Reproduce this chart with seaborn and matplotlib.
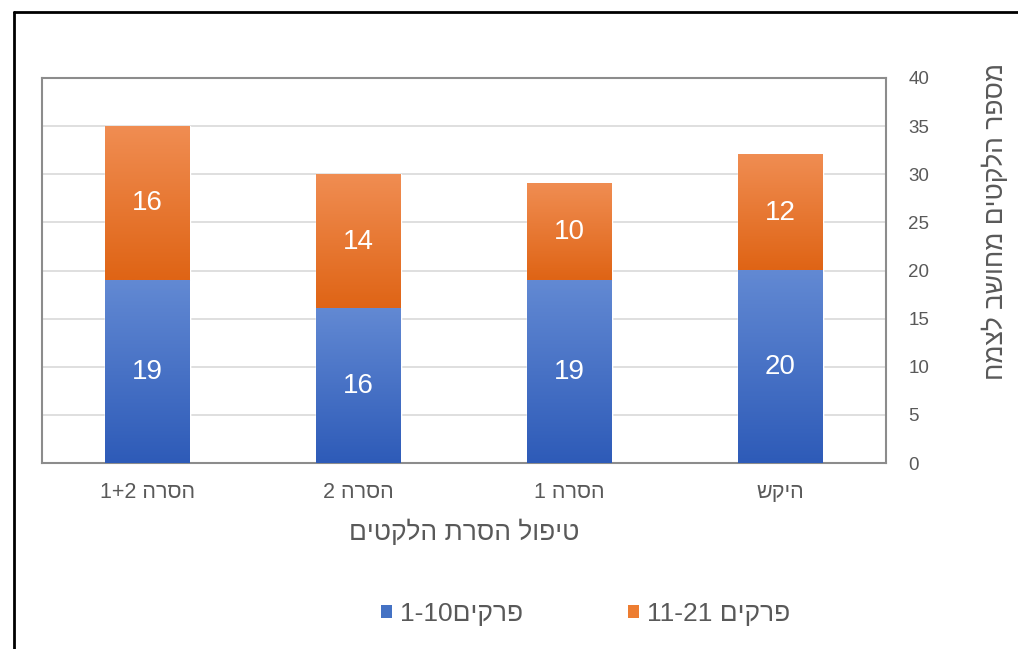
import re
import numpy as np
import matplotlib
matplotlib.use("Agg")
import matplotlib.pyplot as plt
import matplotlib.colors as mcolors
from matplotlib.patches import Patch
from matplotlib.lines import Line2D
import seaborn as sns
import pandas as pd

# ---- data (logical Hebrew order) ----
categories = ["היקש", "הסרה 1", "הסרה 2", "הסרה 1+2"]
chapters_1_10 = [20, 19, 16, 19]
chapters_11_21 = [12, 10, 14, 16]
series_names = ["פרקים1-10", "פרקים 11-21"]
x_title = "טיפול הסרת הלקטים"
y_title = "מספר הלקטים מחושב לצמח"
y_ticks = [0, 5, 10, 15, 20, 25, 30, 35, 40]


def visual(s):
    """Convert logical RTL text to visual order for LTR renderer."""
    tokens = re.findall(r"[0-9+\-]+|[^0-9+\-]+", s)
    out = []
    for t in reversed(tokens):
        if re.fullmatch(r"[0-9+\-]+", t):
            out.append(t)
        else:
            out.append(t[::-1])
    return "".join(out)


sns.set_style("white")
plt.rcParams["font.family"] = ["Liberation Sans", "DejaVu Sans"]

BLUE = "#4472C4"
ORANGE = "#ED7D31"
TEXT = "#595959"

totals = [a + b for a, b in zip(chapters_1_10, chapters_11_21)]
df = pd.DataFrame({"cat": categories, "bottom": chapters_1_10,
                   "top": chapters_11_21, "total": totals})

fig = plt.figure(figsize=(10.18, 6.49), dpi=100)
ax = fig.add_axes([42 / 1018, 1 - 463 / 649, 844 / 1018, 385 / 649])

sns.barplot(data=df, x="cat", y="total", order=categories, color=ORANGE,
            width=0.40, ax=ax, saturation=1, zorder=2)
n_or = len(ax.patches)
sns.barplot(data=df, x="cat", y="bottom", order=categories, color=BLUE,
            width=0.40, ax=ax, saturation=1, zorder=2)

patches = list(ax.patches)
orange_p = patches[:n_or]
blue_p = patches[n_or:]


def grad(c_top, c_bot, n=100):
    t = np.linspace(0, 1, n)[:, None]
    a = np.array(mcolors.to_rgb(c_top))
    b = np.array(mcolors.to_rgb(c_bot))
    return (a * (1 - t) + b * t)[:, None, :]


for i, p in enumerate(orange_p):
    x0, w = p.get_x(), p.get_width()
    ax.imshow(grad("#F08D52", "#DF6415"), extent=[x0, x0 + w, chapters_1_10[i], totals[i]],
              aspect="auto", zorder=3, clip_path=p, clip_on=True, interpolation="bilinear")
for i, p in enumerate(blue_p):
    x0, w = p.get_x(), p.get_width()
    ax.imshow(grad("#6289D3", "#2E5BB8"), extent=[x0, x0 + w, 0, chapters_1_10[i]],
              aspect="auto", zorder=3, clip_path=p, clip_on=True, interpolation="bilinear")

# data labels
for i in range(len(categories)):
    ax.text(i, chapters_1_10[i] / 2, str(chapters_1_10[i]), ha="center", va="center",
            color="white", fontsize=20, zorder=5)
    ax.text(i, chapters_1_10[i] + chapters_11_21[i] / 2, str(chapters_11_21[i]),
            ha="center", va="center", color="white", fontsize=20, zorder=5)

ax.set_xlim(3.5, -0.5)
ax.set_ylim(0, 40)
ax.yaxis.tick_right()
ax.set_yticks(y_ticks)
ax.set_yticklabels([str(v) for v in y_ticks])
ax.set_xticks(range(len(categories)))
ax.set_xticklabels([visual(c) for c in categories])
ax.tick_params(axis="y", length=0, pad=16, labelsize=13.5, labelcolor=TEXT)
ax.tick_params(axis="x", length=0, pad=14, labelsize=15.5, labelcolor=TEXT)
ax.yaxis.grid(True, color="#D9D9D9", linewidth=1.2, zorder=0)
ax.set_axisbelow(True)
for s in ax.spines.values():
    s.set_visible(True)
    s.set_color("#8C8C8C")
    s.set_linewidth(1.5)

ax.set_xlabel(visual(x_title), fontsize=19, color=TEXT, va="center")
ax.xaxis.set_label_coords(0.5, -0.179)
ax.set_ylabel(visual(y_title), fontsize=19, color=TEXT, rotation=90, va="center", ha="center")
ax.yaxis.set_label_position("right")
ax.yaxis.set_label_coords(1.1137, 0.626)

handles = [Patch(facecolor=BLUE, edgecolor="none"), Patch(facecolor=ORANGE, edgecolor="none")]
fig.legend(handles, [visual(s) for s in series_names], loc="center",
           bbox_to_anchor=(585.5 / 1018, 1 - 614 / 649), ncol=2, frameon=False,
           fontsize=19, handlelength=0.4, handleheight=0.4, handletextpad=0.3,
           columnspacing=4.0, labelcolor=TEXT)

# outer frame (top and left edges visible)
fig.add_artist(Line2D([14 / 1018, 1.0], [1 - 12 / 649, 1 - 12 / 649], color="black",
                      linewidth=2, transform=fig.transFigure))
fig.add_artist(Line2D([14 / 1018, 14 / 1018], [0, 1 - 12 / 649], color="black",
                      linewidth=2, transform=fig.transFigure))

fig.savefig("out.png", dpi=100)
